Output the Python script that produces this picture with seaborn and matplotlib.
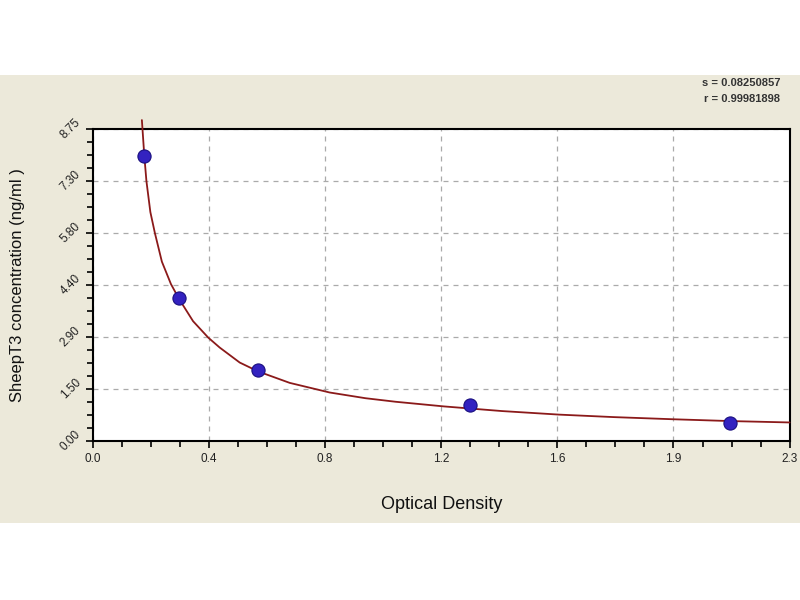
import numpy as np
import pandas as pd
import matplotlib

matplotlib.use("Agg")

import matplotlib.pyplot as plt
import seaborn as sns
from matplotlib.patches import Rectangle
from matplotlib.ticker import AutoMinorLocator

# standard points (optical density vs concentration)
od_points = [0.170, 0.285, 0.546, 1.244, 2.102]
conc_points = [8.0, 4.0, 2.0, 1.0, 0.5]

# fitted curve (it pokes a little above the frame)
curve_od = [0.162, 0.164, 0.170, 0.177, 0.190, 0.205, 0.228, 0.258, 0.285, 0.331,
            0.381, 0.419, 0.485, 0.546, 0.650, 0.782, 0.900, 1.000, 1.159, 1.350,
            1.539, 1.720, 1.915, 2.100, 2.300]
curve_conc = [9.00, 8.75, 8.00, 7.29, 6.42, 5.83, 5.03, 4.40, 3.98, 3.36,
              2.90, 2.62, 2.20, 1.95, 1.63, 1.36, 1.20, 1.10, 0.97, 0.84,
              0.74, 0.67, 0.61, 0.56, 0.52]

x_tick_labels = ["0.0", "0.4", "0.8", "1.2", "1.6", "1.9", "2.3"]
y_tick_labels = ["0.00", "1.50", "2.90", "4.40", "5.80", "7.30", "8.75"]
x_max = 2.3
y_max = 8.75

stats_lines = ["s = 0.08250857", "r = 0.99981898"]

sns.set_style("white")
plt.rcParams["font.family"] = ["Liberation Sans", "DejaVu Sans"]

fig = plt.figure(figsize=(8, 6), dpi=100, facecolor="white")
# beige panel behind the chart
fig.patches.append(Rectangle((0, 0.128), 1, 0.747, transform=fig.transFigure,
                             facecolor="#ECE9DA", edgecolor="none", zorder=-5))

ax = fig.add_axes([0.116, 0.265, 0.871, 0.52])
ax.set_zorder(2)
ax.set_facecolor("white")

ax.set_xlim(0, x_max)
ax.set_ylim(0, y_max)
ax.set_xticks(np.linspace(0, x_max, 7))
ax.set_yticks(np.linspace(0, y_max, 7))
ax.set_xticklabels(x_tick_labels, fontsize=8.5, color="#222222")
ax.set_yticklabels(y_tick_labels, fontsize=8.5, color="#222222", rotation=45,
                   va="center", ha="right")
ax.xaxis.set_minor_locator(AutoMinorLocator(4))
ax.yaxis.set_minor_locator(AutoMinorLocator(4))
ax.tick_params(which="both", direction="out", color="black", width=1.2)
ax.tick_params(which="major", length=5)
ax.tick_params(which="minor", length=4)
ax.tick_params(axis="x", which="both", bottom=True, pad=4)
ax.tick_params(axis="y", which="both", left=True, pad=2)

ax.grid(True, which="major", linestyle=(0, (4, 4)), color="#aaaaaa", linewidth=0.9)
ax.set_axisbelow(True)
for side in ax.spines.values():
    side.set_color("black")
    side.set_linewidth(1.5)

curve_df = pd.DataFrame({"od": curve_od, "conc": curve_conc})
sns.lineplot(data=curve_df, x="od", y="conc", sort=False, color="#8B1A1A",
             linewidth=1.3, ax=ax, zorder=3, clip_on=False)

pts_df = pd.DataFrame({"od": od_points, "conc": conc_points})
sns.scatterplot(data=pts_df, x="od", y="conc", color="#3322C0", s=90,
                edgecolor="#1A1080", linewidth=0.8, ax=ax, zorder=4)

ax.set_xlabel("Optical Density", fontsize=13, color="#111111", labelpad=22)
ax.set_ylabel("SheepT3 concentration (ng/ml )", fontsize=12, color="#111111", labelpad=24)

fig.text(0.975, 0.862, stats_lines[0], ha="right", va="center", fontsize=8,
         color="#333333", fontweight="bold")
fig.text(0.975, 0.835, stats_lines[1], ha="right", va="center", fontsize=8,
         color="#333333", fontweight="bold")

fig.savefig("out.png", dpi=100, facecolor=fig.get_facecolor())
